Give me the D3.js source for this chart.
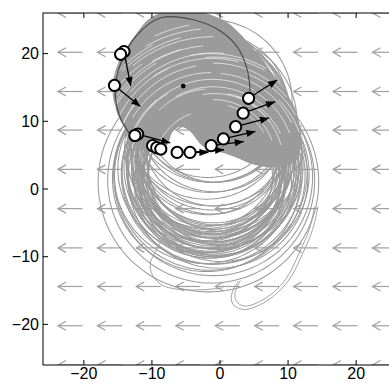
<!DOCTYPE html>
<html>
<head>
<meta charset="utf-8">
<script src="https://cdn.jsdelivr.net/npm/d3@7/dist/d3.min.js"></script>
<style>
  html, body { margin: 0; padding: 0; background: #fff; }
  svg { display: block; }
  text { font-family: "Liberation Sans", Arial, Helvetica, sans-serif; font-size: 16px; fill: #000; }
</style>
</head>
<body>
<div id="chart"></div>
<script>
// axis ticks
const xTicks = [-20, -10, 0, 10, 20];
const yTicks = [-20, -10, 0, 10, 20];

// background flow field (grid + x component)
const fieldX = [-26, -20.2, -14.4, -8.7, -2.9, 2.9, 8.7, 14.4, 20.2, 26];
const fieldY = [-26, -20.2, -14.4, -8.7, -2.9, 2.9, 8.7, 14.4, 20.2, 26];
const fieldU = -3.6;

// start positions (white markers)
const startX = [-14.1, -14.6, -15.5, -12.1, -12.5, -9.9, -9.3, -8.7, -6.3, -4.4, -1.3, 0.5, 2.3, 3.4, 4.2];
const startY = [20.3, 19.9, 15.3, 8.1, 7.9, 6.4, 6.1, 5.9, 5.4, 5.4, 6.4, 7.4, 9.2, 11.2, 13.4];

// velocity arrows
const arrowX0 = [-14.1, -15.5, -12.1, -6.3, -4.4, -1.3, 0.5, 2.3, 3.4, 4.2];
const arrowY0 = [20.3, 15.3, 8.1, 5.4, 5.4, 6.4, 7.4, 9.2, 11.2, 13.4];
const arrowX1 = [-13.1, -11.7, -7.3, -1.7, 0.6, 3.5, 5.2, 7.2, 8.1, 8.4];
const arrowY1 = [15.2, 12.2, 6.8, 5.4, 5.8, 7.0, 8.5, 10.5, 12.9, 16.1];

// vortex centre
const centreX = -5.4, centreY = 15.2;

// dense swept region (outline of the shaded area)
const sweepX = [-13.3, -15.0, -15.8, -15.0, -12.6, -10.2, -7.5, -4, -1, 1.1, 4.0, 6.4, 8.9, 10.8, 11.7, 11.9, 11.2, 8.5, 5, 2, -0.5, -2.5, -4.5, -5.8, -7.0, -7.6, -8.4, -10.2, -12];
const sweepY = [8.0, 10.9, 14.9, 18.5, 22.5, 25.3, 26.3, 26.4, 25.6, 24.6, 21.8, 18.9, 15.3, 12.4, 9.5, 6.5, 4.2, 3.2, 3.6, 4.8, 5.6, 6.3, 8.6, 9.2, 8.4, 6.8, 5.8, 5.5, 6.0];

// initial ring (dark outline)
const ringX = [4.4, 4.3, 3.8, 2.6, 0.1, -3.9, -8.7, -12.4, -14.6, -15.4, -14.8, -13.3];
const ringY = [14.0, 16.0, 18.3, 20.9, 23.3, 25.0, 25.3, 22.5, 18.5, 14.9, 10.9, 8.2];

// gaps between trajectories inside the swept region
const gapCx = [-1, -1, -0.8, -1.2, -1, -0.7, -1.1, -1, -1.3, -0.9, -1, -1.2, -1, -0.8, -1.1, -1, -1.2, -1, -0.9, -1.1, -1, -1.3, -0.6, -1, -1.4,
               -1.5, -0.5, -2, -1, -0.8, -1.6, -1.2, -0.4, -1.8, -1];
const gapCy = [4, 4, 4.2, 3.8, 4, 4.3, 4, 4.4, 3.9, 4.1, 4, 4.3, 3.8, 4, 4.2, 4, 3.9, 4.1, 4, 4, 4.2, 4, 4, 4.5, 3.6,
               3.5, 4.6, 4.2, 3.3, 4.8, 4.4, 3.7, 3.9, 4.1, 4.6];
const gapR = [8.6, 9.2, 9.9, 10.5, 11.1, 11.6, 12.2, 12.7, 13.3, 13.8, 14.4, 15.0, 15.5, 16.1, 16.6, 17.2, 17.8, 18.4, 19.0, 19.7, 20.3, 10.8, 13.0, 14.1, 16.4,
              8.1, 9.6, 11.4, 12.9, 14.7, 15.8, 17.5, 10.2, 13.6, 18.9];
const gapA0 = [30, 20, 35, 15, 45, 20, 60, 25, 90, 30, 100, 75, 115, 85, 120, 95, 125, 90, 105, 95, 100, 95, 20, 40, 60,
               110, 50, 120, 130, 60, 135, 105, 25, 140, 118];
const gapA1 = [75, 90, 100, 70, 120, 60, 140, 85, 150, 70, 158, 125, 160, 140, 158, 145, 150, 130, 135, 120, 115, 135, 45, 90, 100,
               160, 80, 165, 165, 95, 165, 120, 55, 162, 140];

// looping trajectories (centre x, centre y, radius)
const loopCx = [-1.7, -1.3, -1.0, -1.5, -0.8, -1.2, -1.4, -0.9, -1.1, -1.6, -0.7, -1.3, -1.0, -1.8, -0.6, -1.2, -1.5, -0.9, -1.1, -1.4, -0.8, -1.3, -1.0, -1.6, -0.5, -1.2, -2.2, 0.2, -2.6, 0.5, -2.0, -0.3, -2.4, 0.0, -1.9,
                -1.5, -1.0, -0.5, -1.8, -1.2, -0.8, -1.4, -0.6, -2.0, -1.1,
                -1.5, -1.0, -2.0, -0.5, -1.2, -1.8, -0.8, -1.4,
                -1.2, -0.9, -1.6, -0.7, -1.3, -1.0, -1.9, -0.4, -1.1, -1.5, -0.8, -1.3];
const loopCy = [1.0, 1.3, 1.8, 2.0, 2.5, 2.2, 2.8, 3.0, 2.6, 3.2, 3.4, 3.0, 3.6, 3.3, 2.9, 3.8, 3.5, 4.0, 3.2, 4.2, 3.7, 4.4, 3.9, 4.0, 4.3, 4.6, 2.4, 2.2, 3.0, 3.4, 1.6, 1.5, 3.8, 4.6, 4.8,
                5.5, 6.0, 6.5, 7.0, 7.5, 8.0, 5.0, 5.8, 6.2, 8.5,
                11, 12, 10.5, 11.5, 10, 12.5, 10.8, 13,
                1.2, 1.6, 0.8, 2.0, 1.4, 0.6, 1.9, 1.1, 2.3, 0.9, 1.7, 2.6];
const loopR = [16.2, 15.2, 14.6, 14.0, 13.6, 13.3, 13.0, 12.8, 12.6, 12.5, 12.3, 12.2, 12.0, 11.9, 11.8, 11.6, 11.5, 11.3, 11.2, 11.0, 10.9, 10.7, 10.5, 10.4, 10.2, 10.0, 13.4, 12.9, 12.4, 11.7, 13.8, 13.2, 11.4, 10.8, 10.3,
               11.5, 11.0, 11.8, 10.8, 11.2, 10.5, 12.2, 12.6, 12.0, 11.6,
               11.5, 11.0, 12.0, 10.5, 12.5, 10.8, 11.2, 12.0,
               10.8, 10.4, 11.0, 9.8, 10.1, 10.6, 9.6, 10.9, 9.4, 10.3, 9.9, 9.2];

// stray trajectory pieces
const strayX = [-8.6, -9.7, -10.2, -10.1, -8.7, -6.3, -2.9, 0.5];
const strayY = [-7.6, -9.7, -10.8, -12.3, -14.1, -14.8, -14.9, -14.6];
const hookX = [2.7, 1.7, 1.9, 3.4, 6.8, 10.0, 12.2, 13.6, 14.4];
const hookY = [-13.6, -15.6, -17.0, -17.8, -16.6, -13.6, -9.4, -6.0, -2.6];
const hook2X = [3.0, 2.2, 2.4, 3.6, 6.6, 9.6, 11.7, 13.1, 13.9];
const hook2Y = [-13.5, -15.4, -16.6, -17.3, -16.2, -13.4, -9.3, -6.0, -2.6];

const width = 389, height = 383;
const x = d3.scaleLinear().domain([-26, 26]).range([43, 397]);
const y = d3.scaleLinear().domain([-26, 26]).range([365, 13]);
const grey = "#999";

const svg = d3.select("#chart").append("svg")
  .attr("width", width)
  .attr("height", height);

const defs = svg.append("defs");
defs.append("clipPath").attr("id", "plot")
  .append("rect")
  .attr("x", x(-26)).attr("y", y(26))
  .attr("width", x(26) - x(-26)).attr("height", y(-26) - y(26));

const line = d3.line().x(d => x(d[0])).y(d => y(d[1]));
const smooth = d3.line().x(d => x(d[0])).y(d => y(d[1])).curve(d3.curveCatmullRom);
const closed = d3.line().x(d => x(d[0])).y(d => y(d[1])).curve(d3.curveCatmullRomClosed);

function arcPts(cx, cy, r, a0, a1) {
  const pts = [];
  const n = Math.max(8, Math.ceil(Math.abs(a1 - a0) / 3));
  for (let i = 0; i <= n; i++) {
    const a = (a0 + (a1 - a0) * i / n) * Math.PI / 180;
    pts.push([cx + r * Math.cos(a), cy + r * Math.sin(a)]);
  }
  return pts;
}

const sweep = sweepX.map((v, i) => [v, sweepY[i]]);
defs.append("clipPath").attr("id", "sweep")
  .append("path").attr("d", closed(sweep));

const plot = svg.append("g").attr("clip-path", "url(#plot)");

// flow field
const field = d3.cross(fieldX, fieldY);
const fg = plot.append("g")
  .attr("stroke", "#a0a0a0").attr("stroke-width", 1.2).attr("fill", "none");
fg.selectAll("path.shaft").data(field).enter().append("path")
  .attr("d", d => line([[d[0], d[1]], [d[0] + fieldU, d[1]]]));
fg.selectAll("path.head").data(field).enter().append("path")
  .attr("d", d => {
    const hx = x(d[0] + fieldU), hy = y(d[1]);
    return `M${hx + 8},${hy - 4.5}L${hx},${hy}L${hx + 8},${hy + 4.5}`;
  });

// looping trajectories
const loops = loopCx.map((v, i) => ({ cx: v, cy: loopCy[i], r: loopR[i] }));
plot.append("g")
  .attr("fill", "none").attr("stroke", grey).attr("stroke-width", 1.05)
  .selectAll("path").data(loops).enter().append("path")
  .attr("d", d => line(arcPts(d.cx, d.cy, d.r, 0, 360)));

plot.append("g")
  .attr("fill", "none").attr("stroke", grey).attr("stroke-width", 0.9)
  .selectAll("path")
  .data([
    strayX.map((v, i) => [v, strayY[i]]),
    hookX.map((v, i) => [v, hookY[i]]),
    hook2X.map((v, i) => [v, hook2Y[i]])
  ])
  .enter().append("path")
  .attr("d", smooth);

// dense swept area
plot.append("path")
  .attr("d", closed(sweep))
  .attr("fill", "#9b9b9b");

const gaps = gapCx.map((v, i) => ({ cx: v, cy: gapCy[i], r: gapR[i], a0: gapA0[i], a1: gapA1[i] }));
plot.append("g")
  .attr("clip-path", "url(#sweep)")
  .attr("fill", "none").attr("stroke", "#fff").attr("stroke-width", 0.8).attr("stroke-opacity", 0.8)
  .selectAll("path").data(gaps).enter().append("path")
  .attr("d", d => line(arcPts(d.cx, d.cy, d.r, d.a0, d.a1)));

// ring of initial positions
plot.append("path")
  .attr("d", smooth(ringX.map((v, i) => [v, ringY[i]])))
  .attr("fill", "none").attr("stroke", "#4a4a4a").attr("stroke-width", 1.2);

// velocity arrows
const arrows = arrowX0.map((v, i) => ({ x0: v, y0: arrowY0[i], x1: arrowX1[i], y1: arrowY1[i] }));
const ag = plot.append("g");
ag.selectAll("line").data(arrows).enter().append("line")
  .attr("x1", d => x(d.x0)).attr("y1", d => y(d.y0))
  .attr("x2", d => x(d.x1)).attr("y2", d => y(d.y1))
  .attr("stroke", "#000").attr("stroke-width", 1.3);
ag.selectAll("path").data(arrows).enter().append("path")
  .attr("fill", "#000")
  .attr("d", d => {
    const X1 = x(d.x1), Y1 = y(d.y1);
    const ang = Math.atan2(Y1 - y(d.y0), X1 - x(d.x0));
    const L = 9, W = 3.6;
    const bx = X1 - L * Math.cos(ang), by = Y1 - L * Math.sin(ang);
    const px = -Math.sin(ang) * W, py = Math.cos(ang) * W;
    return `M${X1},${Y1}L${bx + px},${by + py}L${bx - px},${by - py}Z`;
  });

// start markers
plot.append("g").selectAll("circle")
  .data(startX.map((v, i) => [v, startY[i]]))
  .enter().append("circle")
  .attr("cx", d => x(d[0])).attr("cy", d => y(d[1]))
  .attr("r", 5.6)
  .attr("fill", "#fff").attr("stroke", "#000").attr("stroke-width", 2);

plot.append("circle")
  .attr("cx", x(centreX)).attr("cy", y(centreY))
  .attr("r", 2.4).attr("fill", "#000");

// axes box and ticks
const ax = svg.append("g").attr("stroke", "#000").attr("stroke-width", 1).attr("fill", "none");
ax.append("rect")
  .attr("x", x(-26)).attr("y", y(26))
  .attr("width", x(26) - x(-26)).attr("height", y(-26) - y(26));
xTicks.forEach(t => {
  ax.append("line").attr("x1", x(t)).attr("x2", x(t)).attr("y1", y(-26)).attr("y2", y(-26) - 5);
  ax.append("line").attr("x1", x(t)).attr("x2", x(t)).attr("y1", y(26)).attr("y2", y(26) + 5);
});
yTicks.forEach(t => {
  ax.append("line").attr("y1", y(t)).attr("y2", y(t)).attr("x1", x(-26)).attr("x2", x(-26) + 5);
  ax.append("line").attr("y1", y(t)).attr("y2", y(t)).attr("x1", x(26)).attr("x2", x(26) - 5);
});

const fmt = v => (v < 0 ? "\u2212" + Math.abs(v) : String(v));
svg.append("g").selectAll("text").data(xTicks).enter().append("text")
  .attr("x", d => x(d)).attr("y", 379)
  .attr("text-anchor", "middle")
  .text(fmt);
svg.append("g").selectAll("text").data(yTicks).enter().append("text")
  .attr("x", x(-26) - 4).attr("y", d => y(d))
  .attr("dy", "0.36em")
  .attr("text-anchor", "end")
  .text(fmt);
</script>
</body>
</html>
